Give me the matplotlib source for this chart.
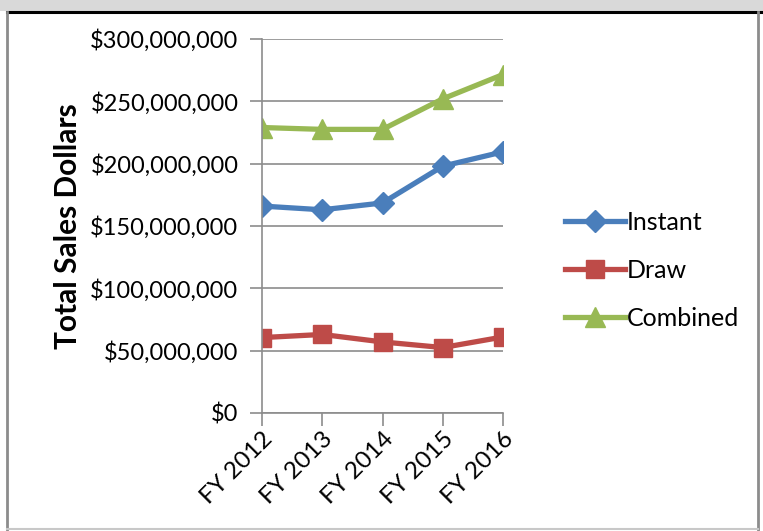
import matplotlib.pyplot as plt
from matplotlib.patches import Rectangle
from matplotlib.lines import Line2D
from matplotlib.ticker import FuncFormatter

plt.rcParams['font.family'] = ['Lato', 'DejaVu Sans']

years = ['FY 2012', 'FY 2013', 'FY 2014', 'FY 2015', 'FY 2016']
instant = [166e6, 163e6, 168.5e6, 198e6, 209.5e6]
draw = [60.5e6, 63e6, 57e6, 52.5e6, 61e6]
combined = [229e6, 227.5e6, 227.5e6, 252e6, 271.5e6]

W, H = 763, 531
fig = plt.figure(figsize=(W / 100, H / 100), dpi=100)
ax = fig.add_axes([262 / W, 1 - 413 / H, 241 / W, 374 / H])

x = range(len(years))
ax.plot(x, instant, color='#4A7EBB', lw=3.8, marker='D', ms=11, label='Instant')
ax.plot(x, draw, color='#BE4B48', lw=3.8, marker='s', ms=13, label='Draw')
ax.plot(x, combined, color='#98B954', lw=3.8, marker='^', ms=14, label='Combined')

ax.set_xlim(0, 4)
ax.set_ylim(0, 300e6)
ax.set_yticks([0, 50e6, 100e6, 150e6, 200e6, 250e6, 300e6])
ax.yaxis.set_major_formatter(FuncFormatter(lambda v, p: '${:,.0f}'.format(v)))
ax.set_xticks(list(x))
ax.set_xticklabels(years, rotation=45, ha='right', va='top', rotation_mode='anchor')

grey = '#8c8c8c'
ax.grid(axis='y', color=grey, lw=1.2)
ax.set_axisbelow(True)
for s in ['top', 'right']:
    ax.spines[s].set_visible(False)
for s in ['left', 'bottom']:
    ax.spines[s].set_color(grey)
    ax.spines[s].set_linewidth(1.2)
ax.tick_params(axis='y', length=9, width=1.2, color=grey, labelsize=17, pad=8)
ax.tick_params(axis='x', length=9, width=1.2, color=grey, labelsize=17.5, pad=2)
ax.set_ylabel('Total Sales Dollars', fontsize=21.5, fontweight='bold', labelpad=6)

ax.legend(loc='center left', bbox_to_anchor=(542 / W, 1 - 270 / H),
          bbox_transform=fig.transFigure, frameon=False, fontsize=18,
          handlelength=2.4, handletextpad=0.1, labelspacing=1.0)

# frame around the chart
fig.add_artist(Rectangle((0, 1 - 11 / H), 1, 11 / H, transform=fig.transFigure,
                         facecolor='#d9d9d9', edgecolor='none'))
fig.add_artist(Line2D([7 / W, 1], [1 - 12 / H] * 2, transform=fig.transFigure,
                      color='black', lw=2.2))
fig.add_artist(Line2D([7 / W] * 2, [0, 1 - 12 / H], transform=fig.transFigure,
                      color='#8c8c8c', lw=2))
fig.add_artist(Line2D([758 / W] * 2, [0, 1 - 12 / H], transform=fig.transFigure,
                      color='#8c8c8c', lw=2))
fig.add_artist(Line2D([7 / W, 758 / W], [2 / H] * 2, transform=fig.transFigure,
                      color='#c8c8c8', lw=1.5))

fig.savefig('out.png', dpi=100)
